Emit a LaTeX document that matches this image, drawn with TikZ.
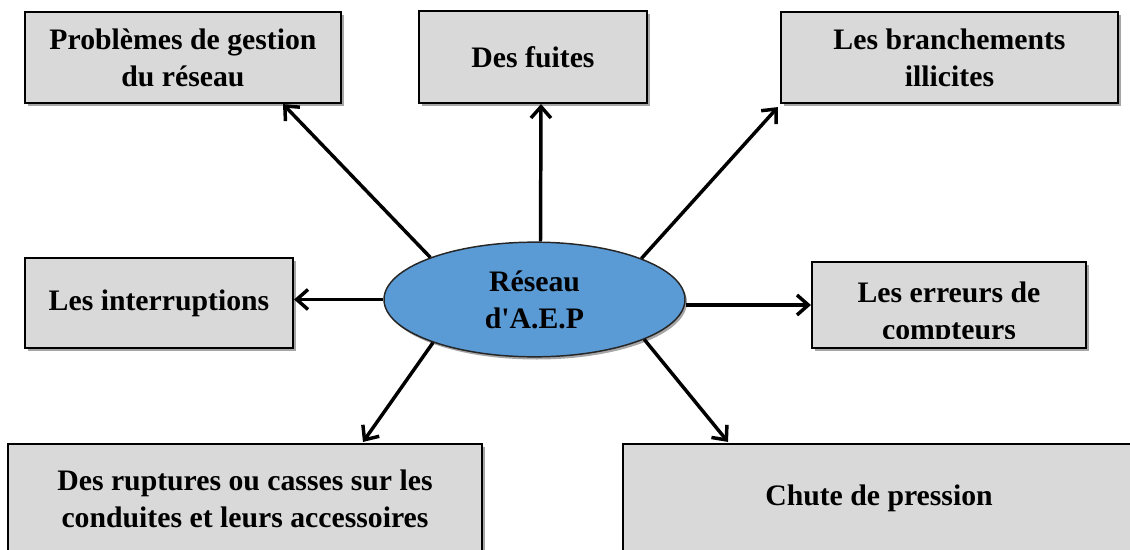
\documentclass[tikz,border=0pt]{standalone}
\usepackage{fontspec}
\setmainfont{Liberation Serif}[Ligatures=TeXOff]
\usetikzlibrary{shapes.geometric,arrows.meta,shadows,calc}
\definecolor{boxgray}{HTML}{D9D9D9}
\definecolor{ellblue}{HTML}{5B9BD5}
\definecolor{shadowgray}{HTML}{A6A6A6}
\begin{document}
\begin{tikzpicture}[x=0.75pt,y=-0.75pt,
  lbl/.style={font=\fontsize{22.3}{27.6}\selectfont\bfseries, align=center, text=black},
  box/.style={lbl, draw=black, line width=1.6pt, fill=boxgray, inner sep=0pt,
    drop shadow={shadow xshift=2.2pt, shadow yshift=-2.5pt, fill=shadowgray, opacity=1}},
  arr/.style={line width=2.6pt, -{Straight Barb[length=8.5pt,width=15pt]}}]
\useasboundingbox (0,0) rectangle (1130,549);

% boxes
\node[box, minimum width=237pt, minimum height=68.25pt] (b1) at (183,57.5) {Problèmes de gestion\\du réseau};
\node[box, minimum width=171pt, minimum height=69pt] (b2) at (533,57) {Des fuites};
\node[box, minimum width=252.75pt, minimum height=68.25pt] (b3) at (949.5,57.5) {Les branchements\\illicites};
\node[box, minimum width=201pt, minimum height=67.5pt] (b4) at (159,303) {Les interruptions};
\node[box, minimum width=205.5pt, minimum height=64.5pt] (b6) at (949,305) {};
\begin{scope}
  \clip ($(b6.north west)+(2,2)$) rectangle ($(b6.south east)+(-2,-11)$);
  \node[lbl] (t6) at (949,314) {Les erreurs de\\compteurs};
\end{scope}
\node[box, minimum width=355.5pt, minimum height=82.5pt] (b7) at (245,499) {Des ruptures ou casses sur les\\conduites et leurs accessoires};
\node[box, minimum width=384pt, minimum height=81pt] (b8) at (879,498) {Chute de pression};

% central ellipse
\node[ellipse, lbl, draw=black!85, line width=1.1pt, fill=ellblue, inner sep=0pt,
  minimum width=225.75pt, minimum height=86pt,
  drop shadow={shadow xshift=1.5pt, shadow yshift=-2pt, fill=shadowgray, opacity=1}]
  (ell) at (534.5,299.5) {Réseau\\d'A.E.P};

% connectors
\draw[arr] (ell.158) -- ($(b1.south)+(100,0)$);
\draw[arr] ($(ell.north)+(6,0)$) -- ($(b2.south)+(8,0)$);
\draw[arr] (ell.21) -- ($(b3.south west)+(-2,3)$);
\draw[arr] (ell.west) -- (b4.east |- ell.west);
\draw[arr] (ell.east |- b6.west) -- (b6.west);
\draw[arr] (ell.203) -- ($(b7.north)+(118,-1)$);
\draw[arr] (ell.-20) -- ($(b8.north)+(-151,-1)$);
\end{tikzpicture}
\end{document}
